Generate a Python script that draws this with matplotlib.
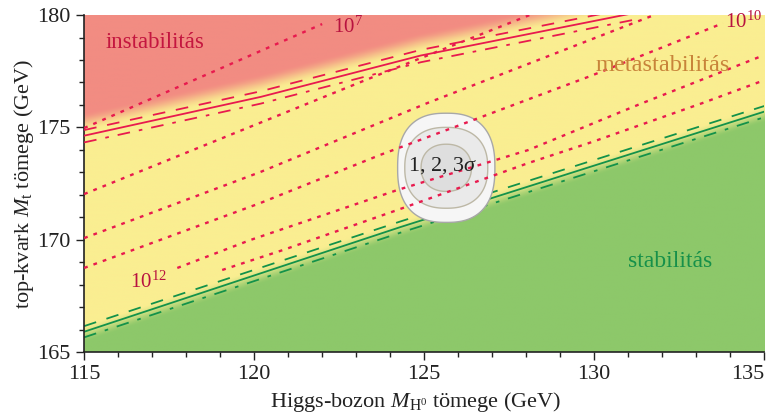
import matplotlib
matplotlib.use("Agg")
import matplotlib.pyplot as plt
import numpy as np
from matplotlib.colors import to_rgb

# boundary lines (Higgs mass, top mass)
INST_MH = [115.0, 120.2, 124.9, 131.2]
INST_MT = [174.63, 176.36, 178.2, 180.1]
STAB_MH = [115.0, 124.3, 135.0]
STAB_MT = [165.9, 170.56, 175.7]
INST_OFFSETS = [0.25, -0.3]   # alpha_s +/- 1 sigma
STAB_OFFSETS = [0.25, -0.25]

# instability scale contours (dotted)
LAMBDA_LINES = {
    "7": ([115.0, 122.0], [174.97, 179.6]),
    "8": ([115.0, 123.56, 128.1], [172.03, 177.28, 180.0]),
    "9": ([115.0, 120.18, 125.09, 130.09, 131.76], [170.07, 173.01, 176.08, 179.02, 180.0]),
    "10": ([115.0, 120.18, 123.7, 126.59, 129.88, 133.79], [168.74, 171.63, 173.77, 175.41, 177.28, 179.64]),
    "11": ([117.74, 119.88, 124.21, 128.06, 131.35, 135.0], [168.74, 169.98, 172.21, 173.99, 176.04, 178.22]),
    "12": ([119.06, 120.85, 124.21, 128.06, 129.94, 133.18, 135.0], [168.65, 169.54, 171.32, 173.41, 174.35, 176.08, 177.1]),
}

# experimental 1, 2, 3 sigma regions: centre and half-widths
MH0, MT0 = 125.65, 173.2
SIGMA_DMH = [0.74, 1.22, 1.43]
SIGMA_DMT = [1.05, 1.8, 2.43]

RED = "#F28C82"
YELLOW = "#FAEE91"
GREEN = "#8DC86A"
LINE_RED = "#E81A4E"
LINE_GREEN = "#13924A"

plt.rcParams["font.family"] = ["Liberation Serif", "DejaVu Serif"]
plt.rcParams["mathtext.fontset"] = "custom"
plt.rcParams["mathtext.rm"] = "Liberation Serif"
plt.rcParams["mathtext.it"] = "Liberation Serif:italic"

fig = plt.figure(figsize=(7.79, 4.19), dpi=100)
ax = fig.add_axes([0.108, 0.16, 0.873, 0.804])
ax.set_xlim(115, 135)
ax.set_ylim(165, 180)

# background: red / yellow / green with soft theory-error edges
gx = np.linspace(115, 135, 500)
gy = np.linspace(165, 180, 400)
X, Y = np.meshgrid(gx, gy)
inst = np.interp(X, INST_MH, INST_MT)
slope_i = (INST_MT[-1] - INST_MT[0]) / (INST_MH[-1] - INST_MH[0])
inst = np.where(X > INST_MH[-1], INST_MT[-1] + slope_i * (X - INST_MH[-1]), inst)
stab = np.interp(X, STAB_MH, STAB_MT)


def smooth(t):
    t = np.clip(t, 0, 1)
    return t * t * (3 - 2 * t)


w_red = smooth((Y - inst - 0.15) / 0.9)
w_green = smooth((stab - Y + 0.3) / 0.8)
img = np.ones(X.shape + (3,)) * np.array(to_rgb(YELLOW))
img = img * (1 - w_red[..., None]) + np.array(to_rgb(RED)) * w_red[..., None]
img = img * (1 - w_green[..., None]) + np.array(to_rgb(GREEN)) * w_green[..., None]
ax.imshow(img, origin="lower", extent=(115, 135, 165, 180), aspect="auto", zorder=0, interpolation="bilinear")

dash = (0, (7, 6))
dashdot = (0, (7, 5, 2, 5))
dotted = (0, (1.6, 2.6))

# stability boundary
ax.plot(STAB_MH, STAB_MT, color=LINE_GREEN, lw=1.3, zorder=2)
ax.plot(STAB_MH, np.array(STAB_MT) + STAB_OFFSETS[0], color=LINE_GREEN, lw=1.3, ls=dash, zorder=2)
ax.plot(STAB_MH, np.array(STAB_MT) + STAB_OFFSETS[1], color=LINE_GREEN, lw=1.3, ls=dashdot, zorder=2)

# instability boundary
ax.plot(INST_MH, INST_MT, color=LINE_RED, lw=1.3, zorder=4)
ax.plot(INST_MH, np.array(INST_MT) + INST_OFFSETS[0], color=LINE_RED, lw=1.3, ls=dash, zorder=4)
ax.plot(INST_MH, np.array(INST_MT) + INST_OFFSETS[1], color=LINE_RED, lw=1.3, ls=dashdot, zorder=4)

# experimental regions
t = np.linspace(0, 2 * np.pi, 300)
fills = ["#DEDEDE", "#EAEAEA", "#F6F6F6"]
edges = ["#BDB8A6", "#BDB8A6", "#A8A8A8"]
powers = [2.2, 2.35, 2.5]
for i in [2, 1, 0]:
    p = powers[i]
    ex = MH0 + SIGMA_DMH[i] * np.sign(np.cos(t)) * np.abs(np.cos(t)) ** (2 / p)
    ey = MT0 + SIGMA_DMT[i] * np.sign(np.sin(t)) * np.abs(np.sin(t)) ** (2 / p)
    ax.fill(ex, ey, facecolor=fills[i], edgecolor=edges[i], lw=1.0, zorder=3)

for key, (mh, mt) in LAMBDA_LINES.items():
    ax.plot(mh, mt, color=LINE_RED, lw=1.7, ls=dotted, zorder=5)

ax.text(MH0 - 0.1, MT0 + 0.1, r"1, 2, 3$\sigma$", fontsize=16, ha="center", va="center", color="#222222", zorder=6)

ax.text(115.62, 178.53, "instabilitás", fontsize=16.5, color="#C4163F", va="baseline", zorder=6)
ax.text(130.03, 177.5, "metastabilitás", fontsize=17.5, color="#C8843A", va="baseline", zorder=6)
ax.text(131.0, 168.78, "stabilitás", fontsize=17, color="#16904A", va="baseline", zorder=6)
ax.text(122.32, 179.2, r"$10^7$", fontsize=15, color="#B8123F", va="baseline", zorder=6)
ax.text(133.85, 179.42, r"$10^{10}$", fontsize=15, color="#B8123F", va="baseline", zorder=6, clip_on=False)
ax.text(116.35, 167.85, r"$10^{12}$", fontsize=15, color="#B8123F", va="baseline", zorder=6)

ax.set_xticks([115, 120, 125, 130, 135])
ax.set_yticks([165, 170, 175, 180])
ax.set_xticks(np.arange(115, 136, 1), minor=True)
ax.set_yticks(np.arange(165, 181, 1), minor=True)
ax.tick_params(which="major", length=6, width=1.0, labelsize=16, color="#222222", labelcolor="#222222")
ax.tick_params(which="minor", length=3.5, width=1.0, color="#222222")
ax.get_xticklabels()[-1].set_horizontalalignment("right")
for s in ["top", "right"]:
    ax.spines[s].set_visible(False)
for s in ["left", "bottom"]:
    ax.spines[s].set_linewidth(1.2)
    ax.spines[s].set_color("#222222")

ax.set_xlabel(r"Higgs-bozon $M_{\mathrm{H}^0}$ tömege (GeV)", fontsize=16, color="#222222")
ax.xaxis.set_label_coords(0.487, -0.112)
ax.set_ylabel(r"top-kvark $M_\mathrm{t}$ tömege (GeV)", fontsize=16, color="#222222", labelpad=1)

fig.savefig("out.png", dpi=100)
